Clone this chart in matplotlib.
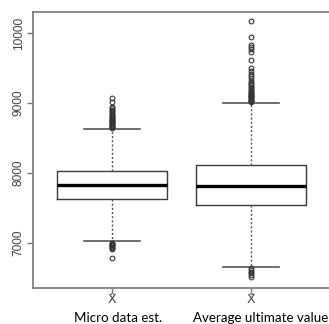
import matplotlib
matplotlib.use("Agg")
import matplotlib.pyplot as plt

# box statistics
groups = ["X\u0302", "X\u0303"]
captions = ["Micro data est.", "Average ultimate value"]
q1 = [7629, 7543]
medians = [7824, 7814]
q3 = [8029, 8114]
whisk_lo = [7029, 6657]
whisk_hi = [8629, 9000]

fliers_micro = [8640, 8652, 8664, 8676, 8688, 8700, 8712, 8724, 8736, 8748,
                8760, 8772, 8784, 8796, 8810, 8825, 8840, 8860, 8880, 8900,
                8925, 8945, 9019, 9067,
                7005, 6992, 6980, 6968, 6955, 6942, 6930, 6915, 6786]
fliers_avg = [9010, 9022, 9034, 9046, 9058, 9070, 9082, 9094, 9106, 9118,
              9130, 9145, 9160, 9175, 9190, 9210, 9230, 9250, 9270, 9290,
              9320, 9350, 9380, 9420, 9460, 9500, 9614, 9729, 9770, 9800,
              9829, 9943, 10171,
              6640, 6615, 6590, 6565, 6540, 6515]

stats = []
for i, fl in enumerate([fliers_micro, fliers_avg]):
    stats.append({"med": medians[i], "q1": q1[i], "q3": q3[i],
                  "whislo": whisk_lo[i], "whishi": whisk_hi[i], "fliers": fl})

fig = plt.figure(figsize=(3.29, 3.24), dpi=100)
ax = fig.add_axes([33 / 329, 36 / 324, 302 / 329, 276 / 324])

line_c = "#3a3a3a"
ax.bxp(stats, positions=[1, 2], widths=0.79, showfliers=True,
       boxprops=dict(color=line_c, linewidth=1.0),
       medianprops=dict(color="black", linewidth=2.4),
       whiskerprops=dict(color="#555555", linewidth=1.0, linestyle=(0, (1.5, 1.5))),
       capprops=dict(color="#555555", linewidth=1.2),
       capwidths=0.4,
       flierprops=dict(marker="o", markersize=3.4, markerfacecolor="none",
                       markeredgecolor="#333333", markeredgewidth=0.8))

ax.set_xlim(0.432, 2.605)
ax.set_ylim(6357, 10300)

for s in ax.spines.values():
    s.set_color("#777777")
    s.set_linewidth(1.2)

ax.set_yticks([7000, 8000, 9000, 10000])
ax.set_yticklabels(["7000", "8000", "9000", "10000"], rotation=90, va="center",
                   fontsize=8.6, color="#444444",
                   family=["Liberation Sans Narrow", "Liberation Sans", "DejaVu Sans"])
ax.set_xticks([1, 2])
ax.set_xticklabels(groups, fontsize=9, color="#444444", family="DejaVu Sans")
ax.tick_params(axis="y", length=4, width=1, color="#777777", pad=2)
ax.tick_params(axis="x", length=3, width=1, color="#777777", pad=0.5)

fig.text(118 / 329, 1 - 318 / 324, captions[0], ha="center", va="center",
         fontsize=9.6, family=["Lato", "DejaVu Sans"], color="black")
fig.text(193 / 329, 1 - 318 / 324, captions[1], ha="left", va="center",
         fontsize=9.6, family=["Lato", "DejaVu Sans"], color="black")

fig.savefig("out.png", dpi=100)
